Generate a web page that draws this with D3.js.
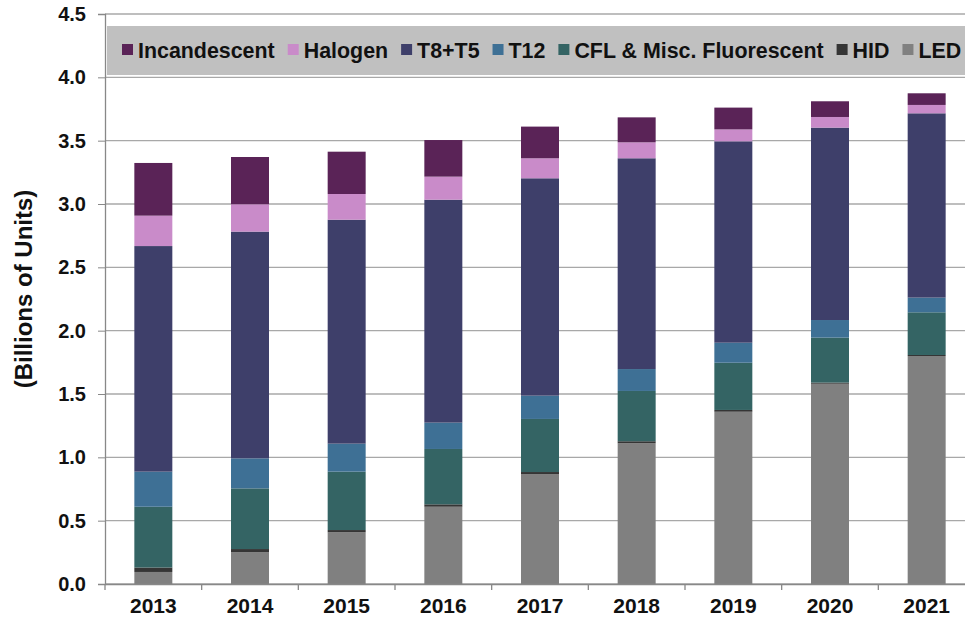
<!DOCTYPE html>
<html>
<head>
<meta charset="utf-8">
<script src="https://cdn.jsdelivr.net/npm/d3@7"></script>
<style>
  html, body { margin: 0; padding: 0; background: #fff; }
  svg { display: block; font-family: "Liberation Sans", Arial, sans-serif; font-weight: bold; }
</style>
</head>
<body>
<svg id="chart" width="965" height="624"></svg>
<script>
const years = ["2013","2014","2015","2016","2017","2018","2019","2020","2021"];
const led          = [0.095, 0.250, 0.408, 0.610, 0.868, 1.111, 1.360, 1.581, 1.800];
const hid          = [0.035, 0.026, 0.018, 0.019, 0.016, 0.016, 0.014, 0.009, 0.008];
const cfl          = [0.480, 0.479, 0.461, 0.437, 0.419, 0.397, 0.373, 0.355, 0.337];
const t12          = [0.277, 0.237, 0.221, 0.208, 0.184, 0.173, 0.158, 0.139, 0.116];
const t8t5         = [1.781, 1.790, 1.768, 1.760, 1.716, 1.664, 1.590, 1.519, 1.455];
const halogen      = [0.240, 0.216, 0.203, 0.182, 0.158, 0.126, 0.094, 0.084, 0.066];
const incandescent = [0.416, 0.373, 0.334, 0.289, 0.250, 0.197, 0.172, 0.124, 0.092];
const seriesNames  = ["LED", "HID", "CFL & Misc. Fluorescent", "T12", "T8+T5", "Halogen", "Incandescent"];
const legendOrder  = ["Incandescent", "Halogen", "T8+T5", "T12", "CFL & Misc. Fluorescent", "HID", "LED"];
const yTicks       = [0, 0.5, 1.0, 1.5, 2.0, 2.5, 3.0, 3.5, 4.0, 4.5];
const yTitle       = "(Billions of Units)";

const colors = {
  "LED": "#808080",
  "HID": "#353535",
  "CFL & Misc. Fluorescent": "#346464",
  "T12": "#3e7095",
  "T8+T5": "#3e3f6a",
  "Halogen": "#c98bc9",
  "Incandescent": "#5a2357"
};

const seriesValues = [led, hid, cfl, t12, t8t5, halogen, incandescent];
const rows = years.map((yr, i) => {
  const r = { year: yr };
  seriesNames.forEach((n, k) => r[n] = seriesValues[k][i]);
  return r;
});

const svg = d3.select("#chart");
const pLeft = 105, pRight = 975, pTop = 14, pBottom = 584;

const x = d3.scaleBand().domain(years).range([pLeft, pRight])
  .paddingInner(0.607).paddingOuter(0.3035);
const y = d3.scaleLinear().domain([0, 4.5]).range([pBottom, pTop]);

// gridlines
svg.append("g").selectAll("line").data(yTicks).join("line")
  .attr("x1", pLeft).attr("x2", pRight)
  .attr("y1", d => y(d)).attr("y2", d => y(d))
  .attr("stroke", "#a8a8a8").attr("stroke-width", 1.3);

// legend box
const legendG = svg.append("g");
legendG.append("rect")
  .attr("x", 107).attr("y", 26).attr("width", pRight - 107).attr("height", 49)
  .attr("fill", "#c0c0c0");

// bars
const stack = d3.stack().keys(seriesNames)(rows);
svg.append("g").selectAll("g").data(stack).join("g")
  .attr("fill", d => colors[d.key])
  .selectAll("rect").data(d => d).join("rect")
  .attr("x", d => x(d.data.year))
  .attr("width", x.bandwidth())
  .attr("y", d => y(d[1]))
  .attr("height", d => y(d[0]) - y(d[1]));

// y axis
const yAxis = svg.append("g").attr("transform", `translate(${pLeft},0)`)
  .call(d3.axisLeft(y).tickValues(yTicks).tickFormat(d3.format(".1f")).tickSize(7).tickPadding(12));
yAxis.select(".domain").attr("stroke", "#888").attr("stroke-width", 1.3);
yAxis.selectAll(".tick line").attr("stroke", "#888");
yAxis.selectAll("text").attr("font-size", 20).attr("font-weight", "bold")
  .attr("font-family", "Liberation Sans, Arial, sans-serif").attr("fill", "#111");

// x axis
const xAxis = svg.append("g").attr("transform", `translate(0,${pBottom})`)
  .call(d3.axisBottom(x).tickSize(0).tickPadding(14));
xAxis.select(".domain").attr("stroke", "#888").attr("stroke-width", 1.3);
xAxis.selectAll("text").attr("font-size", 21).attr("font-weight", "bold")
  .attr("font-family", "Liberation Sans, Arial, sans-serif").attr("fill", "#111");
// category boundary ticks
const step = x.step();
svg.append("g").selectAll("line").data(d3.range(years.length + 1)).join("line")
  .attr("x1", i => pLeft + i * step).attr("x2", i => pLeft + i * step)
  .attr("y1", pBottom).attr("y2", pBottom + 6)
  .attr("stroke", "#888").attr("stroke-width", 1.3);

// y title
svg.append("text")
  .attr("transform", `translate(32,289) rotate(-90)`)
  .attr("text-anchor", "middle")
  .attr("font-size", 24).attr("fill", "#111")
  .text(yTitle);

// legend items
let cx = 122;
legendOrder.forEach(name => {
  legendG.append("rect")
    .attr("x", cx).attr("y", 44).attr("width", 11).attr("height", 11)
    .attr("fill", colors[name]);
  const t = legendG.append("text")
    .attr("x", cx + 16).attr("y", 58)
    .attr("font-size", 21.4).attr("fill", "#111")
    .text(name);
  cx = cx + 16 + t.node().getComputedTextLength() + 13;
});
</script>
</body>
</html>
